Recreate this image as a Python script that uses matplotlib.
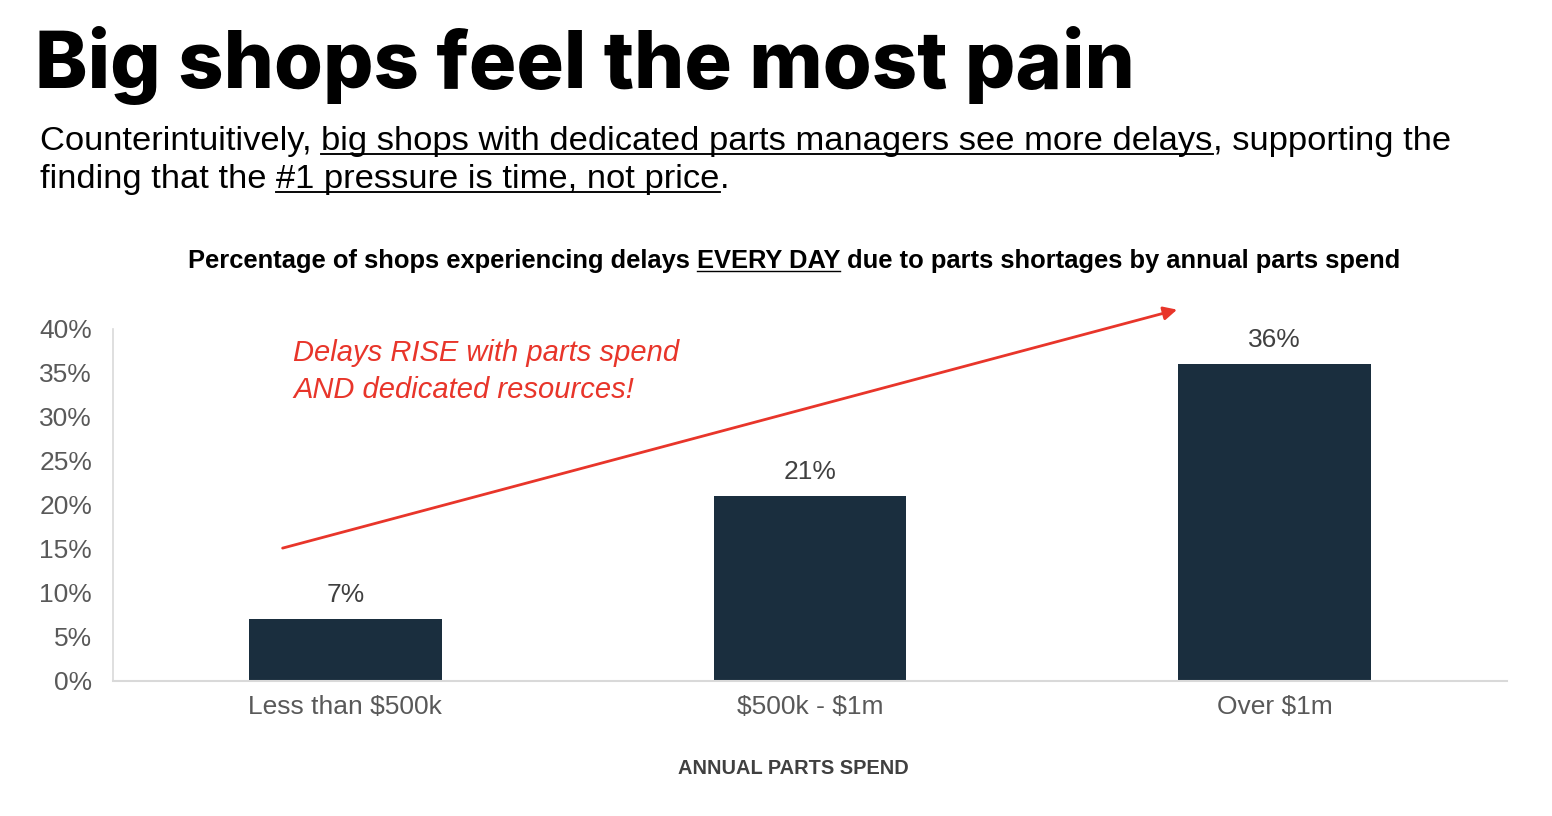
import matplotlib
matplotlib.use("Agg")
import matplotlib.pyplot as plt
from matplotlib.transforms import Affine2D

categories = ["Less than \\$500k", "\\$500k - \\$1m", "Over \\$1m"]
values = [7, 21, 36]
labels = ["7%", "21%", "36%"]
yticks = [0, 5, 10, 15, 20, 25, 30, 35, 40]
ytick_labels = ["0%", "5%", "10%", "15%", "20%", "25%", "30%", "35%", "40%"]

W, H = 1552, 816
DPI = 100
fig = plt.figure(figsize=(W / DPI, H / DPI), dpi=DPI)
fig.patch.set_facecolor("white")

# pixel transform (origin top-left)
pix = Affine2D().scale(1.0 / W, -1.0 / H).translate(0, 1) + fig.transFigure

renderer = fig.canvas.get_renderer()


def runs(x, y, parts, **kw):
    """Draw sequential text runs starting at pixel x, baseline y. parts: list of (text, underline)."""
    cx = x
    for txt, ul in parts:
        t = fig.text(cx, y, txt, transform=pix, va="baseline", ha="left", **kw)
        bb = t.get_window_extent(renderer=renderer)
        if ul:
            fs = t.get_fontsize() * DPI / 72
            uy = y + fs * 0.11
            fig.add_artist(plt.Line2D([cx, cx + bb.width], [uy, uy], transform=pix,
                                      color=kw.get("color", "black"), lw=fs * 0.055 * 72 / DPI))
        cx += bb.width
    return cx


# Title
fig.text(35, 88, "Big shops feel the most pain", transform=pix, va="baseline", ha="left",
         fontsize=57, fontweight="heavy", family=["Inter", "DejaVu Sans"], color="black")

sub_kw = dict(fontsize=24.8, family=["Liberation Sans", "DejaVu Sans"], color="black")
runs(40, 150, [("Counterintuitively, ", False),
               ("big shops with dedicated parts managers see more delays", True),
               (", supporting the", False)], **sub_kw)
runs(40, 188, [("finding that the ", False),
               ("#1 pressure is time, not price", True),
               (".", False)], **sub_kw)

# chart title, centered
ct_kw = dict(fontsize=18.4, fontweight="bold", family=["Liberation Sans", "DejaVu Sans"], color="black")
ct_parts = [("Percentage of shops experiencing delays ", False), ("EVERY DAY", True),
            (" due to parts shortages by annual parts spend", False)]
tmp = [fig.text(0, 0, p, transform=pix, **ct_kw) for p, _ in ct_parts]
tot = sum(t.get_window_extent(renderer=renderer).width for t in tmp)
for t in tmp:
    t.remove()
runs(794 - tot / 2, 268, ct_parts, **ct_kw)

# Axes
ax = fig.add_axes([113 / W, 1 - 681 / H, (1507 - 113) / W, (681 - 329) / H])
ax.set_xlim(-0.5, 2.5)
ax.set_ylim(0, 40)
x = list(range(len(categories)))
ax.bar(x, values, width=0.415, color="#1A2E3E", zorder=2)
for xi, v, lab in zip(x, values, labels):
    ax.annotate(lab, (xi, v), xytext=(0, 12), textcoords="offset pixels", ha="center", va="bottom",
                fontsize=19, color="#404040", family=["Liberation Sans", "DejaVu Sans"])

for s in ["top", "right"]:
    ax.spines[s].set_visible(False)
ax.spines["left"].set_color("#D9D9D9")
ax.spines["bottom"].set_color("#D9D9D9")
ax.spines["left"].set_linewidth(1.2)
ax.spines["bottom"].set_linewidth(1.5)
ax.set_yticks(yticks)
ax.set_yticklabels(ytick_labels)
ax.set_xticks(x)
ax.set_xticklabels(categories)
ax.tick_params(axis="both", length=0, labelsize=19, labelcolor="#595959")
ax.tick_params(axis="y", pad=15)
ax.tick_params(axis="x", pad=10)
for lab in ax.get_xticklabels() + ax.get_yticklabels():
    lab.set_family(["Liberation Sans", "DejaVu Sans"])

fig.text(793, 768, "ANNUAL PARTS SPEND", transform=pix, ha="center", va="center",
         fontsize=14.4, fontweight="bold", color="#404040", family=["Liberation Sans", "DejaVu Sans"])

# trend arrow
ax.annotate("", xy=(1.79, 42.2), xytext=(-0.135, 15.1), xycoords="data", textcoords="data",
            annotation_clip=False,
            arrowprops=dict(arrowstyle="-|>", color="#E8352A", lw=2, mutation_scale=20,
                            shrinkA=0, shrinkB=0))

ann_kw = dict(fontsize=21, style="italic", color="#E8352A", family=["Liberation Sans", "DejaVu Sans"])
fig.text(293, 361, "Delays RISE with parts spend", transform=pix, va="baseline", ha="left", **ann_kw)
fig.text(293, 398, "AND dedicated resources!", transform=pix, va="baseline", ha="left", **ann_kw)

fig.savefig("out.png", dpi=DPI, facecolor="white")
